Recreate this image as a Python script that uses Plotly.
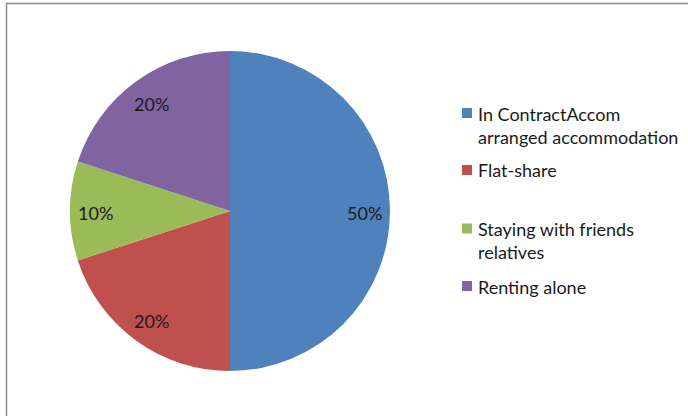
import math
import textwrap
import plotly.graph_objects as go

labels = ["In ContractAccom arranged accommodation", "Flat-share",
          "Staying with friends relatives", "Renting alone"]
values = [50, 20, 10, 20]
colors = ["#4F81BD", "#C0504D", "#9BBB59", "#8064A2"]

W, H = 688, 416
CX, CY, R = 230, 211, 160
FONT = "Lato"
FS = 18

fig = go.Figure(go.Pie(
    labels=labels, values=values, sort=False, direction="clockwise", rotation=0,
    marker=dict(colors=colors, line=dict(width=0)),
    textinfo="none", hoverinfo="label+percent", showlegend=False,
    domain=dict(x=[(CX - R) / W, (CX + R) / W], y=[1 - (CY + R) / H, 1 - (CY - R) / H]),
))

annotations = []
total = sum(values)
cum = 0
for v in values:
    theta = 2 * math.pi * (cum + v / 2) / total
    cum += v
    px = CX + 0.84 * R * math.sin(theta)
    py = CY + 1.5 - 0.84 * R * math.cos(theta)
    annotations.append(dict(
        x=px / W, y=1 - py / H, xref="paper", yref="paper",
        text=f"{round(100 * v / total)}%", showarrow=False,
        font=dict(family=FONT, size=FS, color="#1a1a1a"),
        xanchor="center", yanchor="middle"))

legend_marker_y = [113, 170, 228.5, 286]
shapes = [dict(type="rect", xref="paper", yref="paper",
               x0=6.5 / W, x1=1.02, y0=-0.02, y1=1 - 3.5 / H,
               line=dict(color="#8c8c8c", width=1.5), fillcolor="rgba(0,0,0,0)")]
for lab, col, my in zip(labels, colors, legend_marker_y):
    shapes.append(dict(type="rect", xref="paper", yref="paper",
                       x0=462 / W, x1=472 / W, y0=1 - (my + 5) / H, y1=1 - (my - 5) / H,
                       fillcolor=col, line=dict(width=0)))
    lines = textwrap.wrap(lab, width=22)
    annotations.append(dict(
        x=476 / W, y=1 - (my - 12.5) / H, xref="paper", yref="paper",
        text="<br>".join(lines), showarrow=False, align="left",
        font=dict(family=FONT, size=FS, color="#1a1a1a"),
        xanchor="left", yanchor="top"))

fig.update_layout(
    width=W, height=H, margin=dict(l=0, r=0, t=0, b=0),
    paper_bgcolor="white", plot_bgcolor="white",
    shapes=shapes, annotations=annotations,
)
fig.write_html("out.html", config={"displayModeBar": False},
               post_script="document.body.style.margin='0';")
